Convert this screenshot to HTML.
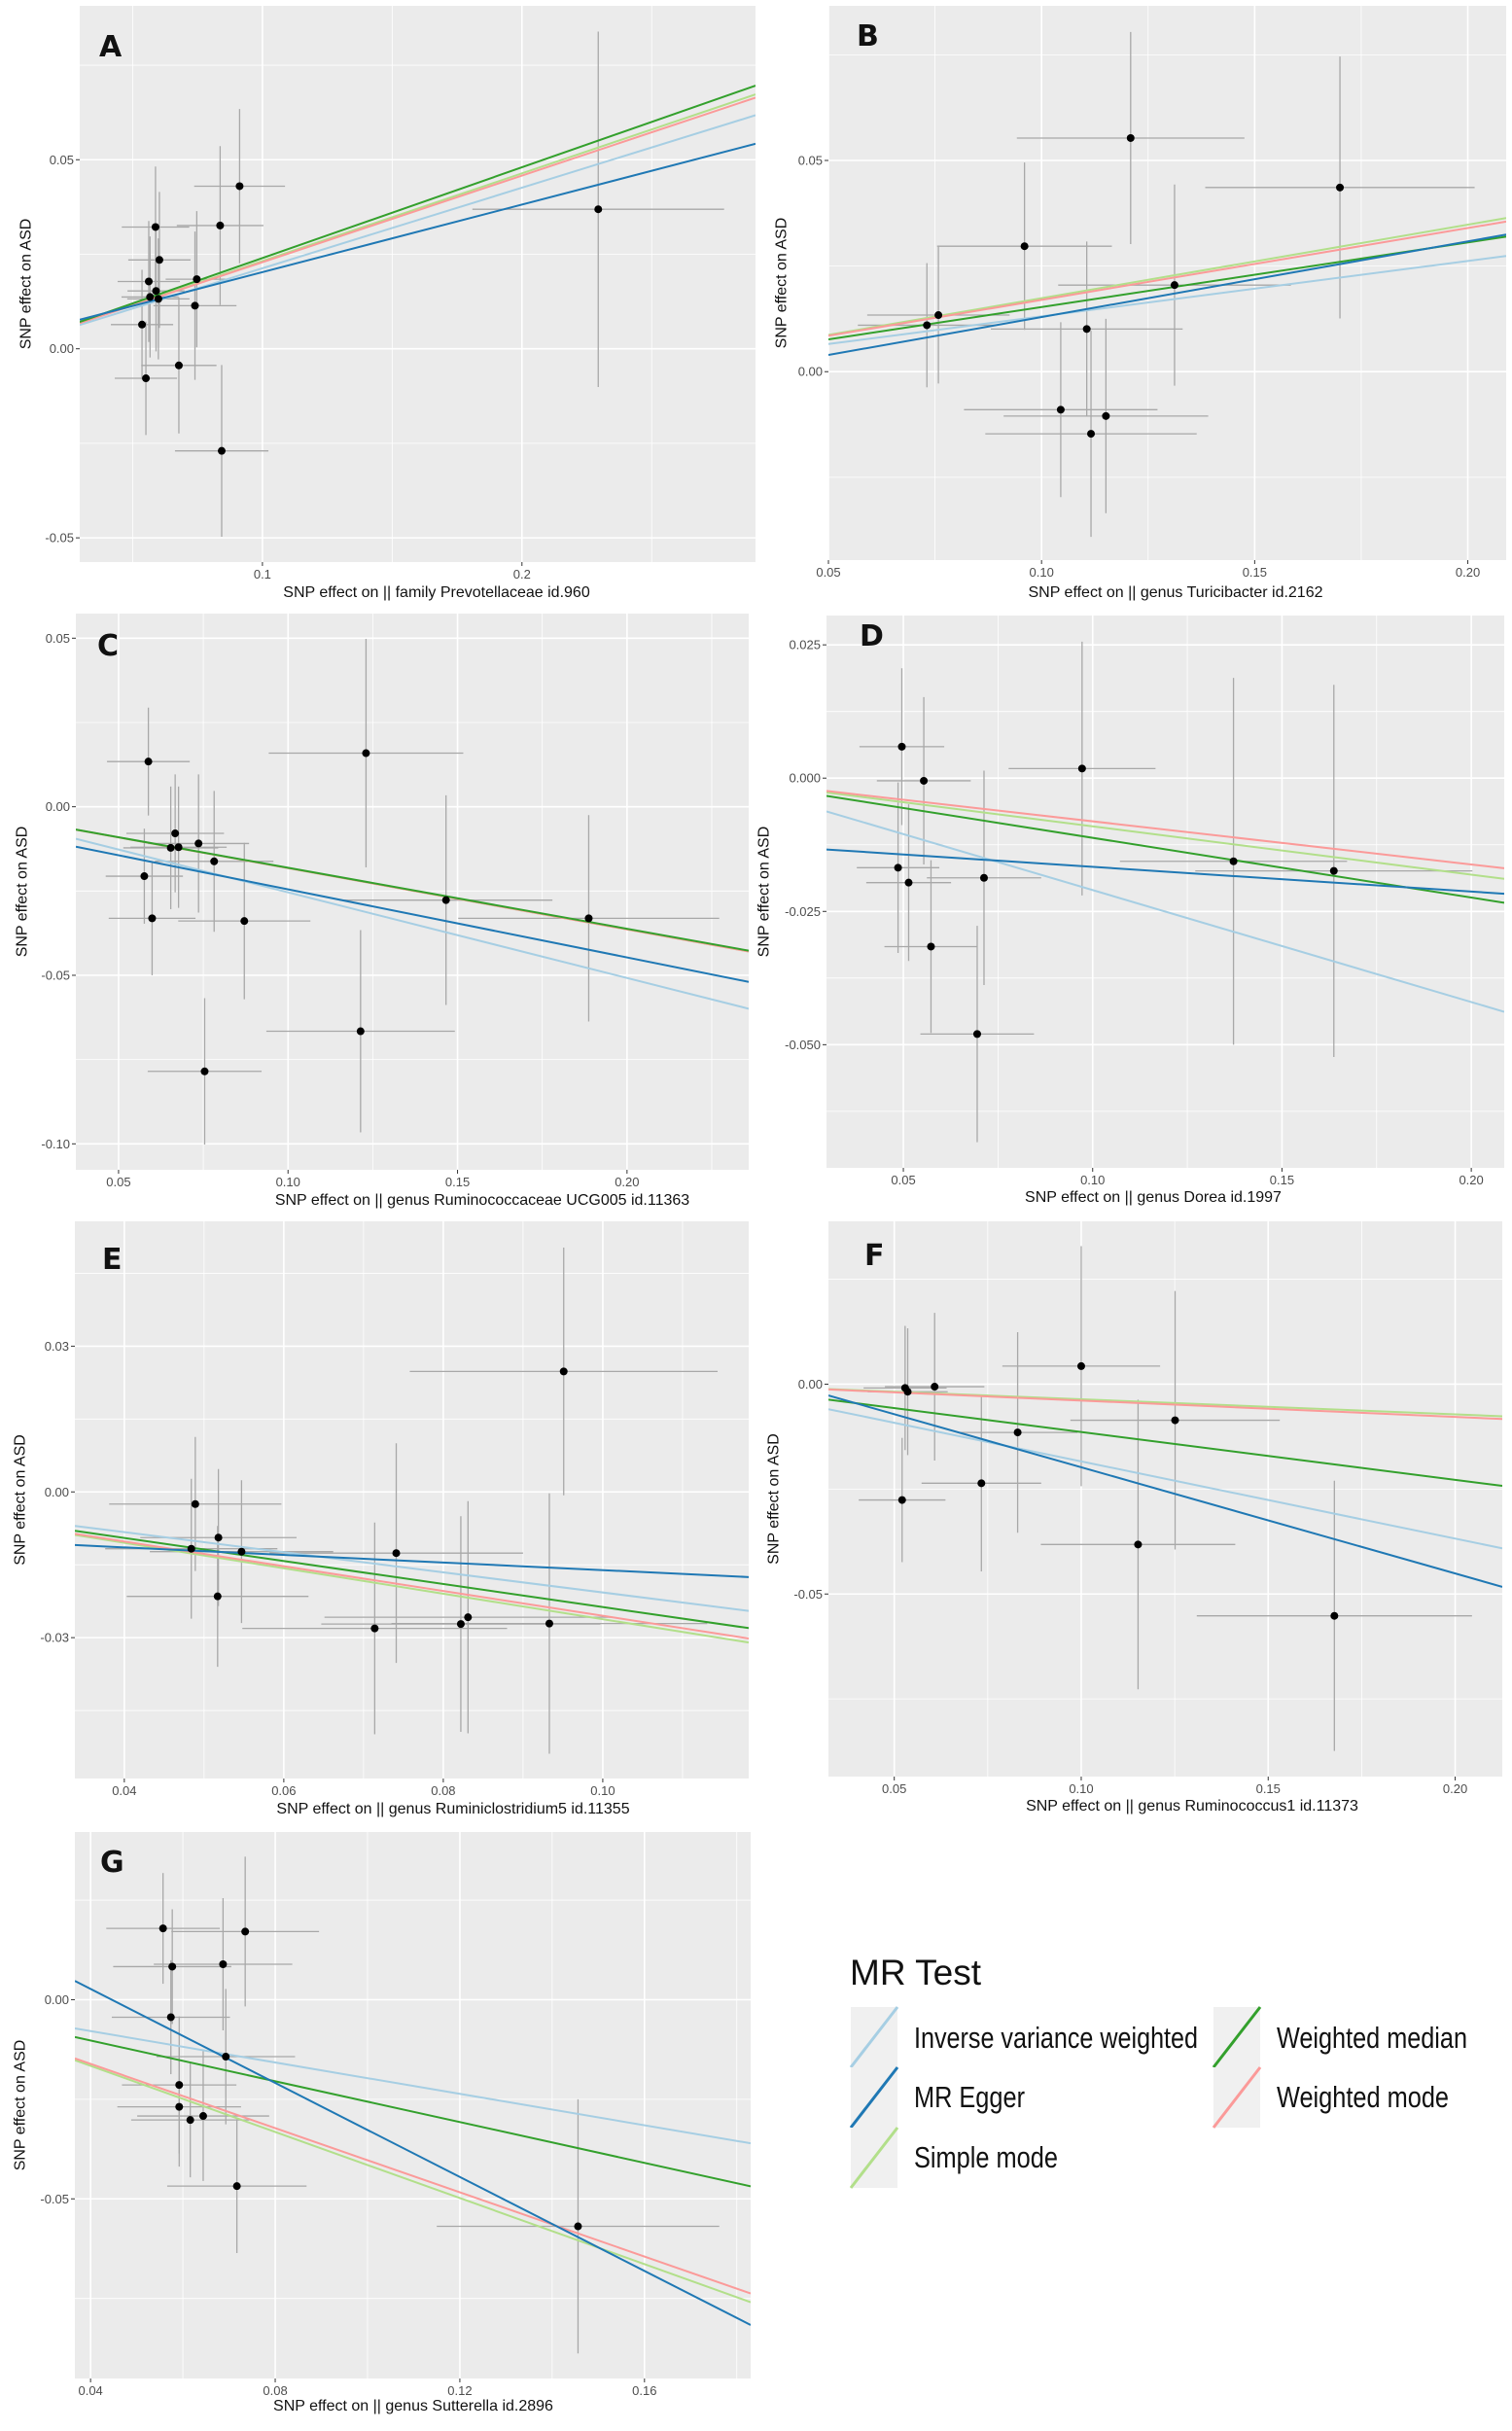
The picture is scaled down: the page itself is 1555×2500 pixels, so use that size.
<!DOCTYPE html>
<html><head><meta charset="utf-8"><title>MR scatter plots</title>
<style>
html,body{margin:0;padding:0;background:#fff;}
svg{display:block;}
</style></head>
<body>
<svg id="fig" xmlns="http://www.w3.org/2000/svg" width="1555" height="2500" viewBox="0 0 1555 2500">
<rect x="0" y="0" width="1555" height="2500" fill="#ffffff"/>
<g id="legend" font-family="'Liberation Sans Narrow','Liberation Sans',sans-serif">
  <text x="874" y="2041" font-size="37" fill="#111">MR Test</text>
  <g>
    <rect x="875" y="2064" width="48" height="62" fill="#f0f0f0"/>
    <line x1="875" y1="2126" x2="923" y2="2064" stroke="#a6cee3" stroke-width="3"/>
    <text x="940" y="2106" font-size="31" fill="#111" textLength="292" lengthAdjust="spacingAndGlyphs">Inverse variance weighted</text>
  </g>
  <g>
    <rect x="875" y="2126" width="48" height="62" fill="#f0f0f0"/>
    <line x1="875" y1="2188" x2="923" y2="2126" stroke="#1f78b4" stroke-width="3"/>
    <text x="940" y="2167" font-size="31" fill="#111" textLength="114" lengthAdjust="spacingAndGlyphs">MR Egger</text>
  </g>
  <g>
    <rect x="875" y="2188" width="48" height="62" fill="#f0f0f0"/>
    <line x1="875" y1="2250" x2="923" y2="2188" stroke="#b2df8a" stroke-width="3"/>
    <text x="940" y="2229" font-size="31" fill="#111" textLength="148" lengthAdjust="spacingAndGlyphs">Simple mode</text>
  </g>
  <g>
    <rect x="1248" y="2064" width="48" height="62" fill="#f0f0f0"/>
    <line x1="1248" y1="2126" x2="1296" y2="2064" stroke="#33a02c" stroke-width="3"/>
    <text x="1313" y="2106" font-size="31" fill="#111" textLength="196" lengthAdjust="spacingAndGlyphs">Weighted median</text>
  </g>
  <g>
    <rect x="1248" y="2126" width="48" height="62" fill="#f0f0f0"/>
    <line x1="1248" y1="2188" x2="1296" y2="2126" stroke="#fb9a99" stroke-width="3"/>
    <text x="1313" y="2167" font-size="31" fill="#111" textLength="177" lengthAdjust="spacingAndGlyphs">Weighted mode</text>
  </g>
</g>
</svg>
<script>
// ---- data: method order = IVW, MR Egger, Simple mode, Weighted median, Weighted mode
const methodColors = ['#a6cee3','#1f78b4','#b2df8a','#33a02c','#fb9a99'];

const aBx = [0.0588,0.0837,0.0912,0.0603,0.0562,0.0590,0.0567,0.0599,0.0747,0.0740,0.0536,0.0678,0.0551,0.0843,0.2294];
const aBy = [0.0322,0.0326,0.0430,0.0235,0.0178,0.0153,0.0137,0.0132,0.0184,0.0114,0.0064,-0.0044,-0.0078,-0.0270,0.0369];
const aSx = [0.013,0.0167,0.0175,0.012,0.012,0.011,0.011,0.012,0.012,0.016,0.012,0.0145,0.012,0.018,0.0485];
const aSy = [0.016,0.021,0.0204,0.018,0.016,0.016,0.016,0.016,0.018,0.0196,0.0145,0.018,0.015,0.0227,0.047];
const aSlope = [0.213,0.1787,0.232,0.24,0.229];
const aInt = [0,0.0024,0,0,0];

const bBx = [0.1209,0.170,0.096,0.1312,0.0758,0.0731,0.1106,0.1045,0.1151,0.1116];
const bBy = [0.0553,0.0436,0.0297,0.0205,0.0134,0.0110,0.0101,-0.0090,-0.0105,-0.0147];
const bSx = [0.0267,0.0316,0.0205,0.0273,0.0167,0.0162,0.0225,0.0227,0.024,0.0248];
const bSy = [0.0251,0.031,0.0198,0.0238,0.0162,0.0147,0.0207,0.0207,0.023,0.0244];
const bSlope = [0.131,0.1792,0.174,0.153,0.17];
const bInt = [0,-0.005,0,0,0];

const cBx = [0.0588,0.123,0.0667,0.0736,0.0654,0.0677,0.0782,0.0576,0.0599,0.0871,0.1466,0.1887,0.1214,0.0754];
const cBy = [0.0134,0.0159,-0.0079,-0.0109,-0.0122,-0.0120,-0.0162,-0.0206,-0.0331,-0.0339,-0.0277,-0.0331,-0.0666,-0.0785];
const cSx = [0.0122,0.0287,0.0144,0.0149,0.014,0.0142,0.0175,0.0114,0.0128,0.0195,0.0314,0.0385,0.0278,0.0168];
const cSy = [0.016,0.0339,0.0175,0.0205,0.0182,0.018,0.0209,0.0141,0.0169,0.0232,0.0311,0.0306,0.030,0.0217];
const cSlope = [-0.254,-0.202,-0.182,-0.181,-0.182];
const cInt = [0,-0.0043,0,0,0];

const dBx = [0.0496,0.0554,0.0972,0.0486,0.0514,0.0713,0.0573,0.0695,0.1372,0.1637];
const dBy = [0.0059,-0.0005,0.0018,-0.0168,-0.0196,-0.0187,-0.0316,-0.0480,-0.0156,-0.0174];
const dSx = [0.0112,0.0124,0.0194,0.0109,0.0112,0.0151,0.0123,0.015,0.030,0.0366];
const dSy = [0.0147,0.0157,0.0238,0.016,0.0147,0.0201,0.0162,0.0203,0.0344,0.0349];
const dSlope = [-0.21,-0.0464,-0.0905,-0.112,-0.081];
const dInt = [0,-0.012,0,0,0];

const eBx = [0.0489,0.0518,0.0484,0.0547,0.0517,0.0741,0.0714,0.0822,0.0831,0.0933,0.0951];
const eBy = [-0.0025,-0.0094,-0.0117,-0.0123,-0.0215,-0.0126,-0.0281,-0.0272,-0.0258,-0.0271,0.0248];
const eSx = [0.0108,0.0098,0.0108,0.0115,0.0114,0.0159,0.0166,0.0175,0.018,0.0198,0.0193];
const eSy = [0.0138,0.0141,0.0144,0.0147,0.0145,0.0226,0.0218,0.0222,0.0239,0.0268,0.0255];
const eSlope = [-0.207,-0.078,-0.262,-0.237,-0.255];
const eInt = [0,-0.0083,0,0,0];

const fBx = [0.0529,0.0536,0.0608,0.100,0.083,0.1251,0.0733,0.0521,0.1152,0.1677];
const fBy = [-0.0009,-0.0018,-0.0006,0.0043,-0.0115,-0.0086,-0.0236,-0.0276,-0.0382,-0.0552];
const fSx = [0.0111,0.0107,0.0133,0.0211,0.016,0.028,0.016,0.0116,0.026,0.0368];
const fSy = [0.0148,0.0151,0.0176,0.0286,0.0239,0.0308,0.021,0.0148,0.0345,0.0322];
const fSlope = [-0.184,-0.253,-0.036,-0.114,-0.039];
const fInt = [0,0.0055,0,0,0];

const gBx = [0.0557,0.0735,0.0687,0.0577,0.0574,0.0693,0.0592,0.0592,0.0616,0.0644,0.0717,0.1456];
const gBy = [0.0179,0.0171,0.0089,0.0083,-0.0044,-0.0143,-0.0214,-0.0269,-0.0302,-0.0292,-0.0468,-0.0569];
const gSx = [0.0123,0.016,0.015,0.0128,0.0128,0.015,0.0124,0.0134,0.0128,0.0143,0.0151,0.0306];
const gSy = [0.0139,0.0188,0.0166,0.0144,0.0143,0.017,0.0172,0.015,0.0144,0.0163,0.0168,0.0319];
const gSlope = [-0.197,-0.59,-0.415,-0.256,-0.403];
const gInt = [0,0.0263,0,0,0];

const aXTicks = [0.1,0.2], aXLabels = ['0.1','0.2'], aYTicks = [-0.05,0,0.05], aYLabels = ['-0.05','0.00','0.05'];
const bXTicks = [0.05,0.10,0.15,0.20], bXLabels = ['0.05','0.10','0.15','0.20'], bYTicks = [0,0.05], bYLabels = ['0.00','0.05'];
const cXTicks = [0.05,0.10,0.15,0.20], cXLabels = ['0.05','0.10','0.15','0.20'], cYTicks = [-0.10,-0.05,0,0.05], cYLabels = ['-0.10','-0.05','0.00','0.05'];
const dXTicks = [0.05,0.10,0.15,0.20], dXLabels = ['0.05','0.10','0.15','0.20'], dYTicks = [-0.05,-0.025,0,0.025], dYLabels = ['-0.050','-0.025','0.000','0.025'];
const eXTicks = [0.04,0.06,0.08,0.10], eXLabels = ['0.04','0.06','0.08','0.10'], eYTicks = [-0.03,0,0.03], eYLabels = ['-0.03','0.00','0.03'];
const fXTicks = [0.05,0.10,0.15,0.20], fXLabels = ['0.05','0.10','0.15','0.20'], fYTicks = [-0.05,0], fYLabels = ['-0.05','0.00'];
const gXTicks = [0.04,0.08,0.12,0.16], gXLabels = ['0.04','0.08','0.12','0.16'], gYTicks = [-0.05,0], gYLabels = ['-0.05','0.00'];

// ---- layout (positions, not data)
const panels = [
 {id:'a',L:'A',box:[82,777,6,578],xl:[0.0296,0.29],yl:[-0.0564,0.0907],letter:[102,58],yt:26,xt:[449,614],title:'SNP effect on  ||  family Prevotellaceae id.960',
  bx:aBx,by:aBy,sx:aSx,sy:aSy,sl:aSlope,ic:aInt,xt2:aXTicks,xlb:aXLabels,yt2:aYTicks,ylb:aYLabels},
 {id:'b',L:'B',box:[852,1549,6,576],xl:[0.05,0.209],yl:[-0.0446,0.0866],letter:[881,47],yt:803,xt:[1209,614],title:'SNP effect on  || genus Turicibacter id.2162',
  bx:bBx,by:bBy,sx:bSx,sy:bSy,sl:bSlope,ic:bInt,xt2:bXTicks,xlb:bXLabels,yt2:bYTicks,ylb:bYLabels},
 {id:'c',L:'C',box:[78,770,631,1203],xl:[0.0374,0.2359],yl:[-0.1077,0.0573],letter:[100,674],yt:22,xt:[496,1239],title:'SNP effect on  || genus Ruminococcaceae UCG005 id.11363',
  bx:cBx,by:cBy,sx:cSx,sy:cSy,sl:cSlope,ic:cInt,xt2:cXTicks,xlb:cXLabels,yt2:cYTicks,ylb:cYLabels},
 {id:'d',L:'D',box:[850,1547,633,1201],xl:[0.0297,0.2087],yl:[-0.0731,0.0305],letter:[884,664],yt:785,xt:[1186,1236],title:'SNP effect on  ||  genus Dorea id.1997',
  bx:dBx,by:dBy,sx:dSx,sy:dSy,sl:dSlope,ic:dInt,xt2:dXTicks,xlb:dXLabels,yt2:dYTicks,ylb:dYLabels},
 {id:'e',L:'E',box:[77,770,1256,1829],xl:[0.0338,0.1183],yl:[-0.059,0.0557],letter:[105,1305],yt:20,xt:[466,1865],title:'SNP effect on  || genus Ruminiclostridium5 id.11355',
  bx:eBx,by:eBy,sx:eSx,sy:eSy,sl:eSlope,ic:eInt,xt2:eXTicks,xlb:eXLabels,yt2:eYTicks,ylb:eYLabels},
 {id:'f',L:'F',box:[852,1545,1256,1827],xl:[0.0324,0.2126],yl:[-0.0935,0.0388],letter:[889,1301],yt:795,xt:[1226,1862],title:'SNP effect on  || genus Ruminococcus1 id.11373',
  bx:fBx,by:fBy,sx:fSx,sy:fSy,sl:fSlope,ic:fInt,xt2:fXTicks,xlb:fXLabels,yt2:fYTicks,ylb:fYLabels},
 {id:'g',L:'G',box:[77,772,1884,2446],xl:[0.0366,0.183],yl:[-0.0951,0.0421],letter:[103,1925],yt:20,xt:[425,2479],title:'SNP effect on  || genus Sutterella id.2896',
  bx:gBx,by:gBy,sx:gSx,sy:gSy,sl:gSlope,ic:gInt,xt2:gXTicks,xlb:gXLabels,yt2:gYTicks,ylb:gYLabels}
];
const NS='http://www.w3.org/2000/svg';
const svg=document.getElementById('fig');
function mk(tag,attrs,parent){const e=document.createElementNS(NS,tag);for(const k in attrs)e.setAttribute(k,attrs[k]);parent.appendChild(e);return e;}

panels.forEach(p=>{
  const [x0,x1,y0,y1]=p.box;
  const sx=v=>x0+(v-p.xl[0])/(p.xl[1]-p.xl[0])*(x1-x0);
  const sy=v=>y1-(v-p.yl[0])/(p.yl[1]-p.yl[0])*(y1-y0);
  const g=mk('g',{},svg);
  
  
  const cp=mk('clipPath',{id:'clip-'+p.id},g);
  mk('rect',{x:x0,y:y0,width:x1-x0,height:y1-y0},cp);
  const bg=mk('rect',{x:x0,y:y0,width:x1-x0,height:y1-y0,fill:'#ebebeb'},g);
  
  
  const grid=mk('g',{'clip-path':'url(#clip-'+p.id+')'},g);
  
  
  // minor gridlines
  const xs=p.xt2, ys=p.yt2;
  const dx=xs.length>1?xs[1]-xs[0]:0.1, dy=ys.length>1?ys[1]-ys[0]:0.05;
  for(let v=xs[0]-dx*1.5; v<p.xl[1]+dx; v+=dx){ if(v>p.xl[0]&&v<p.xl[1]) mk('line',{x1:sx(v),x2:sx(v),y1:y0,y2:y1,stroke:'#fff','stroke-width':0.8},grid);}
  for(let v=ys[0]-dy*1.5; v<p.yl[1]+dy; v+=dy){ if(v>p.yl[0]&&v<p.yl[1]) mk('line',{x1:x0,x2:x1,y1:sy(v),y2:sy(v),stroke:'#fff','stroke-width':0.8},grid);}
  xs.forEach(v=>mk('line',{x1:sx(v),x2:sx(v),y1:y0,y2:y1,stroke:'#fff','stroke-width':1.6},grid));
  ys.forEach(v=>mk('line',{x1:x0,x2:x1,y1:sy(v),y2:sy(v),stroke:'#fff','stroke-width':1.6},grid));
  // ticks & labels
  xs.forEach((v,i)=>{
    mk('line',{x1:sx(v),x2:sx(v),y1:y1,y2:y1+4,stroke:'#333','stroke-width':1},g);
    const t=mk('text',{x:sx(v),y:y1+17,'text-anchor':'middle','font-size':13,fill:'#4d4d4d','font-family':'Liberation Sans, sans-serif'},g);
    
    
    t.textContent=p.xlb[i];
  });
  ys.forEach((v,i)=>{
    mk('line',{x1:x0-4,x2:x0,y1:sy(v),y2:sy(v),stroke:'#333','stroke-width':1},g);
    const t=mk('text',{x:x0-6,y:sy(v)+4.5,'text-anchor':'end','font-size':13,fill:'#4d4d4d','font-family':'Liberation Sans, sans-serif'},g);
    
    
    t.textContent=p.ylb[i];
  });
  // error bars & points
  const pts=mk('g',{'clip-path':'url(#clip-'+p.id+')'},g);
  
  
  p.bx.forEach((bxv,i)=>{
    const byv=p.by[i];
    const h=mk('line',{x1:sx(bxv-p.sx[i]),x2:sx(bxv+p.sx[i]),y1:sy(byv),y2:sy(byv),stroke:'#a8a8a8','stroke-width':1.3},pts);
    
    
    const v=mk('line',{x1:sx(bxv),x2:sx(bxv),y1:sy(byv-p.sy[i]),y2:sy(byv+p.sy[i]),stroke:'#a8a8a8','stroke-width':1.3},pts);
    
    
  });
  // lines
  const lines=mk('g',{'clip-path':'url(#clip-'+p.id+')'},g);
  
  
  [0,2,4,3,1].forEach(k=>{
    const xa=p.xl[0], xb=p.xl[1];
    const ln=mk('line',{x1:sx(xa),y1:sy(p.ic[k]+p.sl[k]*xa),x2:sx(xb),y2:sy(p.ic[k]+p.sl[k]*xb),stroke:methodColors[k],'stroke-width':2},lines);
    
    
  });
  p.bx.forEach((bxv,i)=>{
    const c=mk('circle',{cx:sx(bxv),cy:sy(p.by[i]),r:4,fill:'#000'},pts);
    
    
  });
  g.appendChild(pts); g.appendChild(lines);
  // re-append points above lines
  p.bx.forEach(()=>{});
  // letter
  const lt=mk('text',{x:p.letter[0],y:p.letter[1],'font-size':30,fill:'#111','font-family':'DejaVu Sans, sans-serif','font-weight':'bold'},g);
  
  
  lt.textContent=p.L;
  // titles
  const xt=mk('text',{x:p.xt[0],y:p.xt[1],'text-anchor':'middle','font-size':16,fill:'#111','font-family':'Liberation Sans, sans-serif'},g);
  
  
  xt.textContent=p.title;
  const cy=(y0+y1)/2;
  const yt=mk('text',{x:p.yt,y:cy,'text-anchor':'middle','font-size':16,fill:'#111','font-family':'Liberation Sans, sans-serif',transform:'rotate(-90 '+p.yt+' '+cy+')',dy:'0.35em'},g);
  
  
  yt.textContent='SNP effect on ASD';
});
// bring points above lines
document.querySelectorAll('circle').forEach(c=>c.parentNode.parentNode.appendChild(c));
</script>
</body></html>
